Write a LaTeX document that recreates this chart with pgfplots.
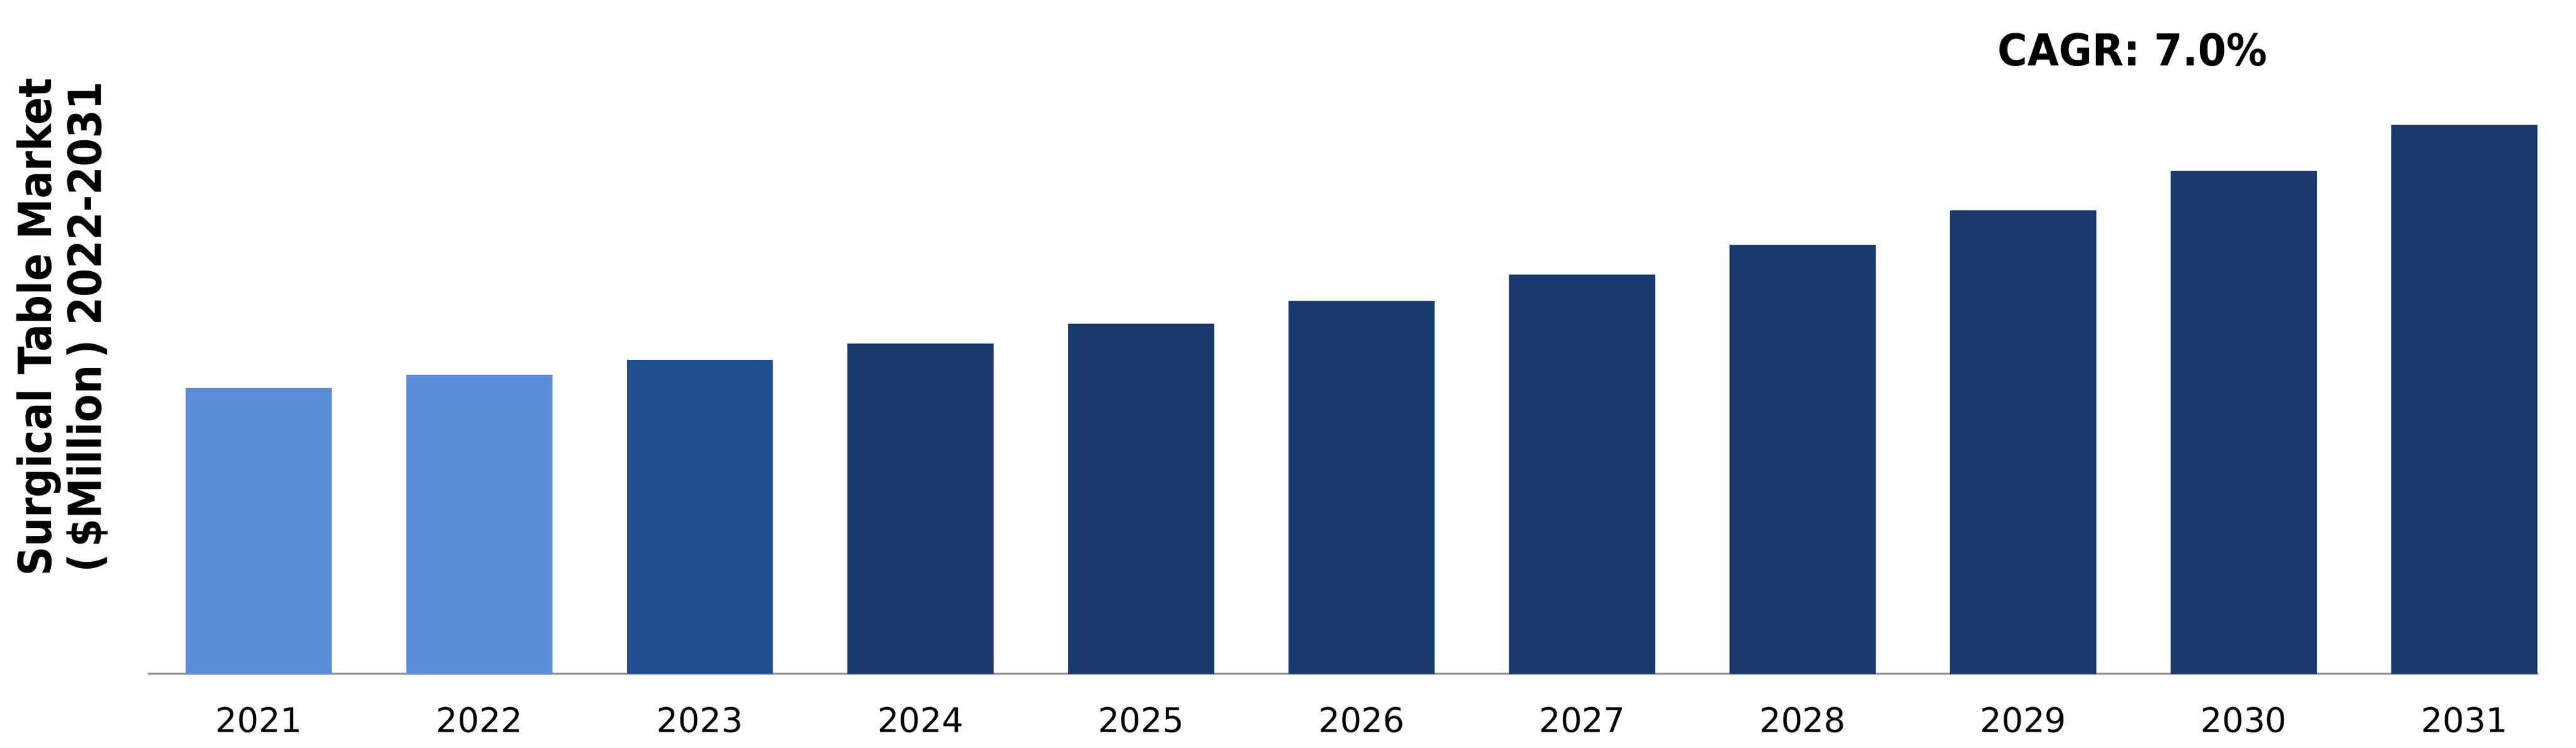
\documentclass[border=0pt]{standalone}
\usepackage{pgfplots}
\pgfplotsset{compat=1.18}
\usepackage{fontspec}
\setmainfont{DejaVu Sans}
\definecolor{barlight}{HTML}{5B8ED9}
\definecolor{barmid}{HTML}{1F4E91}
\definecolor{bardark}{HTML}{183A6C}
\definecolor{axisgray}{HTML}{999999}
\begin{document}
\begin{tikzpicture}
\useasboundingbox (0,0) rectangle (784pt,227.5pt);
\begin{axis}[
  at={(45pt,22.5pt)}, anchor=south west,
  scale only axis, width=727.5pt, height=195pt,
  xmin=-0.503, xmax=10.335, ymin=0, ymax=390,
  axis x line*=bottom, axis y line=none,
  axis line style={-},
  x axis line style={draw=axisgray, line width=0.6pt},
  ybar, bar width=44.5pt, bar shift=0pt,
  xtick={0,...,10},
  xticklabels={2021,2022,2023,2024,2025,2026,2027,2028,2029,2030,2031},
  major tick length=0pt,
  xticklabel style={font=\fontsize{10.3}{12}\selectfont, yshift=-6.6pt},
  ytick=\empty,
  clip=false,
]
\addplot[fill=barlight, draw=none] coordinates {(0,174) (1,182)};
\addplot[fill=barmid, draw=none] coordinates {(2,191)};
\addplot[fill=bardark, draw=none] coordinates {(3,201) (4,213) (5,227) (6,243) (7,261) (8,282) (9,306) (10,334)};
\end{axis}
\node[rotate=90, align=center, font=\bfseries\fontsize{12.4}{15.2}\selectfont] at (19pt,128pt) {\scalebox{1}[1.12]{Surgical Table Market}\\\scalebox{1}[1.12]{(\,\$Million\,) 2022-2031}};
\node[anchor=base, font=\bfseries\fontsize{12.4}{15}\selectfont] at (649pt,207.5pt) {\scalebox{1}[1.08]{CAGR: 7.0\%}};
\end{tikzpicture}
\end{document}
